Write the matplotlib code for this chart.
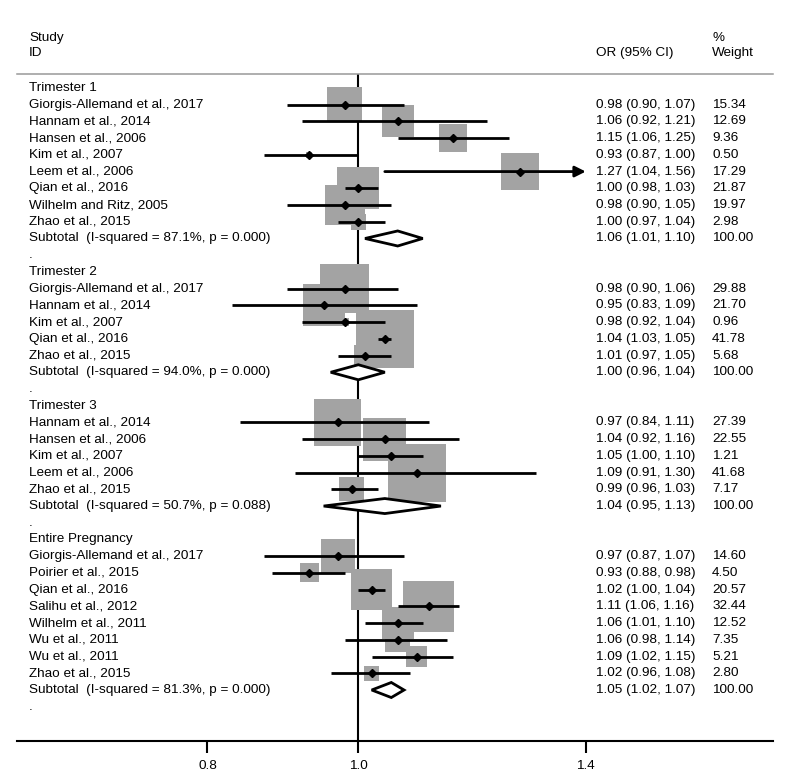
# Forest plot - Odds ratios by pregnancy period

import matplotlib.pyplot as plt
from matplotlib.patches import Polygon
from matplotlib.ticker import NullLocator
from matplotlib.transforms import blended_transform_factory

plt.rcParams['font.family'] = ['Liberation Sans', 'DejaVu Sans']

# Data
groups = ['Trimester 1', 'Trimester 2', 'Trimester 3', 'Entire Pregnancy']

t1_studies = ['Giorgis-Allemand et al., 2017', 'Hannam et al., 2014', 'Hansen et al., 2006',
              'Kim et al., 2007', 'Leem et al., 2006', 'Qian et al., 2016',
              'Wilhelm and Ritz, 2005', 'Zhao et al., 2015']
t1_or = [0.98, 1.06, 1.15, 0.93, 1.27, 1.00, 0.98, 1.00]
t1_lo = [0.90, 0.92, 1.06, 0.87, 1.04, 0.98, 0.90, 0.97]
t1_hi = [1.07, 1.21, 1.25, 1.00, 1.56, 1.03, 1.05, 1.04]
t1_w = [15.34, 12.69, 9.36, 0.50, 17.29, 21.87, 19.97, 2.98]

t2_studies = ['Giorgis-Allemand et al., 2017', 'Hannam et al., 2014', 'Kim et al., 2007',
              'Qian et al., 2016', 'Zhao et al., 2015']
t2_or = [0.98, 0.95, 0.98, 1.04, 1.01]
t2_lo = [0.90, 0.83, 0.92, 1.03, 0.97]
t2_hi = [1.06, 1.09, 1.04, 1.05, 1.05]
t2_w = [29.88, 21.70, 0.96, 41.78, 5.68]

t3_studies = ['Hannam et al., 2014', 'Hansen et al., 2006', 'Kim et al., 2007',
              'Leem et al., 2006', 'Zhao et al., 2015']
t3_or = [0.97, 1.04, 1.05, 1.09, 0.99]
t3_lo = [0.84, 0.92, 1.00, 0.91, 0.96]
t3_hi = [1.11, 1.16, 1.10, 1.30, 1.03]
t3_w = [27.39, 22.55, 1.21, 41.68, 7.17]

ep_studies = ['Giorgis-Allemand et al., 2017', 'Poirier et al., 2015', 'Qian et al., 2016',
              'Salihu et al., 2012', 'Wilhelm et al., 2011', 'Wu et al., 2011',
              'Wu et al., 2011', 'Zhao et al., 2015']
ep_or = [0.97, 0.93, 1.02, 1.11, 1.06, 1.06, 1.09, 1.02]
ep_lo = [0.87, 0.88, 1.00, 1.06, 1.01, 0.98, 1.02, 0.96]
ep_hi = [1.07, 0.98, 1.04, 1.16, 1.10, 1.14, 1.15, 1.08]
ep_w = [14.60, 4.50, 20.57, 32.44, 12.52, 7.35, 5.21, 2.80]

sub_i2 = ['87.1%', '94.0%', '50.7%', '81.3%']
sub_p = ['0.000', '0.000', '0.088', '0.000']
sub_or = [1.06, 1.00, 1.04, 1.05]
sub_lo = [1.01, 0.96, 0.95, 1.02]
sub_hi = [1.10, 1.04, 1.13, 1.07]

ticks = [0.8, 1.0, 1.4]
tick_labels = ['0.8', '1.0', '1.4']

all_data = [
    (t1_studies, t1_or, t1_lo, t1_hi, t1_w),
    (t2_studies, t2_or, t2_lo, t2_hi, t2_w),
    (t3_studies, t3_or, t3_lo, t3_hi, t3_w),
    (ep_studies, ep_or, ep_lo, ep_hi, ep_w),
]

fs = 9.7
box_color = '#a3a3a3'
clip_max = max(ticks)

fig = plt.figure(figsize=(7.86, 7.81), dpi=100)
ax = fig.add_axes([0.0, 0.0512, 1.0, 0.8541])
ax.set_xscale('log')
ax.set_xlim(0.5886, 1.8826)
ax.set_ylim(39.05, -0.837)

trans = blended_transform_factory(ax.transAxes, ax.transData)
x_lab, x_or, x_w = 0.0369, 0.758, 0.906

# Column headers
ax.text(x_lab, -3, 'Study', transform=trans, fontsize=fs, va='center')
ax.text(x_lab, -2.1, 'ID', transform=trans, fontsize=fs, va='center')
ax.text(x_or, -2.1, 'OR (95% CI)', transform=trans, fontsize=fs, va='center')
ax.text(x_w, -3, '%', transform=trans, fontsize=fs, va='center')
ax.text(x_w, -2.1, 'Weight', transform=trans, fontsize=fs, va='center')
ax.axhline(-0.837, xmin=0.0216, xmax=0.9835, color='#999999', lw=1.1, clip_on=False)

# Null line
ax.axvline(1.0, color='black', lw=1.5, zorder=1)

row = 0
for g, (studies, ors, los, his, ws) in enumerate(all_data):
    ax.text(x_lab, row, groups[g], transform=trans, fontsize=fs, va='center')
    row += 1
    rows = list(range(row, row + len(studies)))
    ax.scatter(ors, rows, s=[42 * w for w in ws], marker='s', color=box_color,
               linewidths=0, zorder=2)
    for name, o, lo, hi, w, r in zip(studies, ors, los, his, ws, rows):
        if hi > clip_max:
            ax.annotate('', xy=(clip_max, r), xytext=(lo, r),
                        arrowprops=dict(arrowstyle='-|>', lw=2, color='black',
                                        mutation_scale=16, shrinkA=0, shrinkB=0),
                        zorder=3)
        else:
            ax.plot([lo, hi], [r, r], color='black', lw=2, solid_capstyle='butt', zorder=3)
        ax.plot(o, r, 'D', ms=4.5, color='black', zorder=4)
        ax.text(x_lab, r, name, transform=trans, fontsize=fs, va='center')
        ax.text(x_or, r, f'{o:.2f} ({lo:.2f}, {hi:.2f})', transform=trans, fontsize=fs, va='center')
        ax.text(x_w, r, f'{w:.2f}', transform=trans, fontsize=fs, va='center')
    row += len(studies)

    # Subtotal diamond
    d = Polygon([(sub_lo[g], row), (sub_or[g], row - 0.45), (sub_hi[g], row), (sub_or[g], row + 0.45)],
                closed=True, facecolor='white', edgecolor='black', lw=2, zorder=3)
    ax.add_patch(d)
    ax.text(x_lab, row, f'Subtotal  (I-squared = {sub_i2[g]}, p = {sub_p[g]})',
            transform=trans, fontsize=fs, va='center')
    ax.text(x_or, row, f'{sub_or[g]:.2f} ({sub_lo[g]:.2f}, {sub_hi[g]:.2f})',
            transform=trans, fontsize=fs, va='center')
    ax.text(x_w, row, '100.00', transform=trans, fontsize=fs, va='center')
    row += 1
    ax.text(x_lab, row, '.', transform=trans, fontsize=fs, va='center')
    row += 1

# Axis styling
for side in ['top', 'left', 'right']:
    ax.spines[side].set_visible(False)
ax.spines['bottom'].set_bounds(0.6036, 1.847)
ax.spines['bottom'].set_linewidth(1.5)
ax.set_xticks(ticks)
ax.set_xticklabels(tick_labels, fontsize=fs)
ax.xaxis.set_minor_locator(NullLocator())
ax.tick_params(axis='x', length=8.6, width=1.5, pad=5)
ax.set_yticks([])

plt.savefig('out.png', dpi=100)
